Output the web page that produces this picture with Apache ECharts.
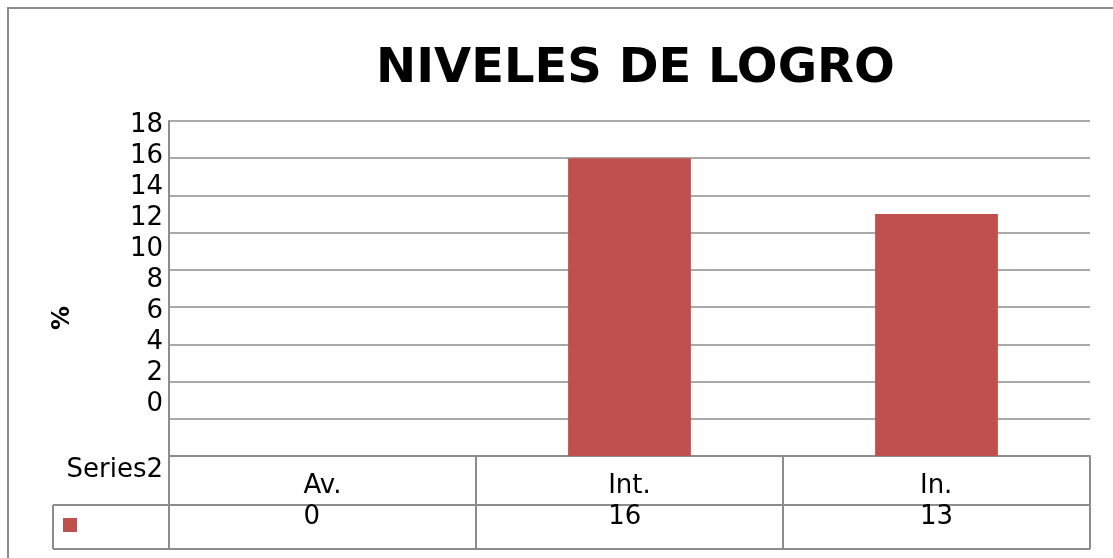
<!DOCTYPE html>
<html>
<head>
<meta charset="utf-8">
<title>Niveles de logro</title>
<script src="https://cdn.jsdelivr.net/npm/echarts@6/dist/echarts.min.js"></script>
<style>
  * { margin: 0; padding: 0; }
  html, body { width: 1113px; height: 558px; background: #fff; overflow: hidden; }
  #main { width: 1113px; height: 558px; }
</style>
</head>
<body>
<div id="main"></div>
<script>
// datos del gráfico
const categories = ['Av.', 'Int.', 'In.'];
const values = [0, 16, 13];
const seriesName = 'Series2';
const yTicks = [0, 2, 4, 6, 8, 10, 12, 14, 16, 18];

const FONT = 'DejaVu Sans';
const GRAY = '#8c8c8c';
const RED = '#C0504D';
const FS = 26;

const chart = echarts.init(document.getElementById('main'), null, { renderer: 'canvas' });

const option = {
    animation: false,
    title: {
        text: 'NIVELES DE LOGRO',
        left: 376,
        top: 42,
        padding: 0,
        textStyle: { fontFamily: FONT, fontSize: 48, fontWeight: 'bold', color: '#000', lineHeight: 56 }
    },
    grid: [
        // zona de barras
        { left: 169, right: 23, top: 121, bottom: 102 },
        // zona solo para las etiquetas del eje (desplazadas como en el original)
        { left: 169, right: 23, top: 125, bottom: 154 }
    ],
    xAxis: [
        {
            type: 'category',
            gridIndex: 0,
            data: categories,
            axisLine: { show: true, lineStyle: { color: GRAY, width: 2 } },
            axisTick: { show: false },
            axisLabel: { show: false }
        },
        { type: 'category', gridIndex: 1, data: categories, show: false }
    ],
    yAxis: [
        {
            type: 'value',
            gridIndex: 0,
            min: 0,
            max: 18,
            interval: 2,
            axisLine: { show: true, lineStyle: { color: GRAY, width: 2 } },
            axisTick: { show: false },
            axisLabel: { show: false },
            splitLine: { show: true, lineStyle: { color: GRAY, width: 1.5 } }
        },
        {
            type: 'value',
            gridIndex: 1,
            min: yTicks[0],
            max: yTicks[yTicks.length - 1],
            interval: 2,
            axisLine: { show: false },
            axisTick: { show: false },
            splitLine: { show: false },
            axisLabel: { color: '#000', fontFamily: FONT, fontSize: FS, margin: 6 }
        }
    ],
    series: [
        {
            name: seriesName,
            type: 'bar',
            xAxisIndex: 0,
            yAxisIndex: 0,
            data: values,
            barWidth: '40%',
            itemStyle: { color: RED }
        }
    ]
};

chart.setOption(option);

// tabla de datos debajo del eje
function buildTable() {
    const ctx = document.createElement('canvas').getContext('2d');
    ctx.font = FS + 'px "' + FONT + '"';

    const yTop = chart.convertToPixel({ gridIndex: 0 }, [0, 0])[1];
    const yMid = yTop + 49;
    const yBot = yTop + 93;
    const centers = categories.map(c => chart.convertToPixel({ xAxisIndex: 0 }, c));
    const step = centers.length > 1 ? centers[1] - centers[0] : 300;
    const x0 = centers[0] - step / 2;
    const x1 = centers[centers.length - 1] + step / 2;
    const legendLeft = 53;

    const lineStyle = { stroke: GRAY, lineWidth: 2 };
    const els = [];
    // líneas horizontales
    els.push({ type: 'line', shape: { x1: legendLeft, y1: yMid, x2: x1, y2: yMid }, style: lineStyle });
    els.push({ type: 'line', shape: { x1: legendLeft, y1: yBot, x2: x1, y2: yBot }, style: lineStyle });
    // líneas verticales
    els.push({ type: 'line', shape: { x1: legendLeft, y1: yMid, x2: legendLeft, y2: yBot }, style: lineStyle });
    for (let i = 0; i <= categories.length; i++) {
        const x = x0 + step * i;
        els.push({ type: 'line', shape: { x1: x, y1: yTop, x2: x, y2: yBot }, style: lineStyle });
    }
    // cabecera de la serie
    els.push({
        type: 'text', x: x0 - 6, y: yTop + 14,
        style: { text: seriesName, fontFamily: FONT, fontSize: FS, fill: '#000', align: 'right', verticalAlign: 'middle' }
    });
    // clave de leyenda
    els.push({ type: 'rect', shape: { x: 63, y: yMid + 13, width: 14, height: 14 }, style: { fill: RED } });
    // celdas: categoría y valor en bloque centrado, alineado a la izquierda
    categories.forEach((c, i) => {
        const w = Math.max(ctx.measureText(c).width, ctx.measureText(String(values[i])).width);
        const left = centers[i] - w / 2;
        els.push({
            type: 'text', x: left, y: yTop + 30,
            style: { text: c, fontFamily: FONT, fontSize: FS, fill: '#000', align: 'left', verticalAlign: 'middle' }
        });
        els.push({
            type: 'text', x: left, y: yTop + 61,
            style: { text: String(values[i]), fontFamily: FONT, fontSize: FS, fill: '#000', align: 'left', verticalAlign: 'middle' }
        });
    });
    // título del eje vertical (recortado en el original)
    els.push({
        type: 'text', x: 63, y: 318, rotation: Math.PI / 2,
        style: { text: '%', fontFamily: FONT, fontSize: 24, fontWeight: 'bold', fill: '#000', align: 'center', verticalAlign: 'middle' }
    });
    // marco exterior
    els.push({ type: 'rect', shape: { x: 8, y: 8, width: 1130, height: 580 }, style: { fill: 'none', stroke: GRAY, lineWidth: 2 } });

    chart.setOption({ graphic: { elements: els } });
}

buildTable();
</script>
</body>
</html>
